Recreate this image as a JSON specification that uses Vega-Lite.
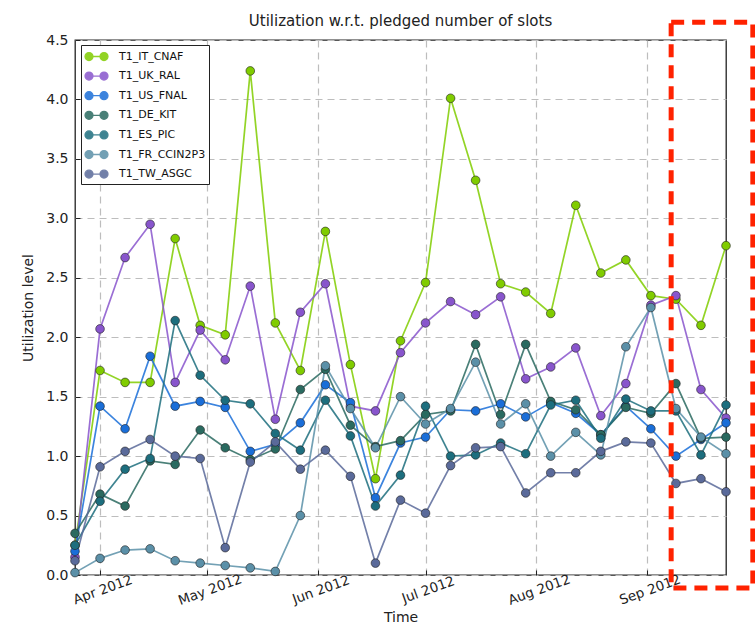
{
  "$schema": "https://vega.github.io/schema/vega-lite/v6.json",
  "width": 651,
  "height": 535,
  "autosize": {"type": "none"},
  "padding": {"left": 75, "top": 40, "right": 29, "bottom": 63},
  "title": {"text": "Utilization w.r.t. pledged number of slots", "fontSize": 15, "fontWeight": "normal", "font": "DejaVu Sans", "color": "#222", "offset": -9},
  "config": {
    "font": "DejaVu Sans",
    "view": {"stroke": "#222", "strokeWidth": 1.3},
    "axis": {"labelFont": "DejaVu Sans", "titleFont": "DejaVu Sans", "labelColor": "#222", "titleColor": "#222", "titleFontWeight": "normal", "domain": false, "gridColor": "#bdbdbd", "gridDash": [7, 5], "gridWidth": 1.2, "tickColor": "#222"}
  },
  "datasets": {
    "series": [
      {"date": "2012-03-25", "site": "T1_IT_CNAF", "value": 0.25},
      {"date": "2012-04-01", "site": "T1_IT_CNAF", "value": 1.72},
      {"date": "2012-04-08", "site": "T1_IT_CNAF", "value": 1.62},
      {"date": "2012-04-15", "site": "T1_IT_CNAF", "value": 1.62},
      {"date": "2012-04-22", "site": "T1_IT_CNAF", "value": 2.83},
      {"date": "2012-04-29", "site": "T1_IT_CNAF", "value": 2.10},
      {"date": "2012-05-06", "site": "T1_IT_CNAF", "value": 2.02},
      {"date": "2012-05-13", "site": "T1_IT_CNAF", "value": 4.24},
      {"date": "2012-05-20", "site": "T1_IT_CNAF", "value": 2.12},
      {"date": "2012-05-27", "site": "T1_IT_CNAF", "value": 1.72},
      {"date": "2012-06-03", "site": "T1_IT_CNAF", "value": 2.89},
      {"date": "2012-06-10", "site": "T1_IT_CNAF", "value": 1.77},
      {"date": "2012-06-17", "site": "T1_IT_CNAF", "value": 0.81},
      {"date": "2012-06-24", "site": "T1_IT_CNAF", "value": 1.97},
      {"date": "2012-07-01", "site": "T1_IT_CNAF", "value": 2.46},
      {"date": "2012-07-08", "site": "T1_IT_CNAF", "value": 4.01},
      {"date": "2012-07-15", "site": "T1_IT_CNAF", "value": 3.32},
      {"date": "2012-07-22", "site": "T1_IT_CNAF", "value": 2.45},
      {"date": "2012-07-29", "site": "T1_IT_CNAF", "value": 2.38},
      {"date": "2012-08-05", "site": "T1_IT_CNAF", "value": 2.20},
      {"date": "2012-08-12", "site": "T1_IT_CNAF", "value": 3.11},
      {"date": "2012-08-19", "site": "T1_IT_CNAF", "value": 2.54},
      {"date": "2012-08-26", "site": "T1_IT_CNAF", "value": 2.65},
      {"date": "2012-09-02", "site": "T1_IT_CNAF", "value": 2.35},
      {"date": "2012-09-09", "site": "T1_IT_CNAF", "value": 2.32},
      {"date": "2012-09-16", "site": "T1_IT_CNAF", "value": 2.10},
      {"date": "2012-09-23", "site": "T1_IT_CNAF", "value": 2.77},
      {"date": "2012-03-25", "site": "T1_UK_RAL", "value": 0.15},
      {"date": "2012-04-01", "site": "T1_UK_RAL", "value": 2.07},
      {"date": "2012-04-08", "site": "T1_UK_RAL", "value": 2.67},
      {"date": "2012-04-15", "site": "T1_UK_RAL", "value": 2.95},
      {"date": "2012-04-22", "site": "T1_UK_RAL", "value": 1.62},
      {"date": "2012-04-29", "site": "T1_UK_RAL", "value": 2.06},
      {"date": "2012-05-06", "site": "T1_UK_RAL", "value": 1.81},
      {"date": "2012-05-13", "site": "T1_UK_RAL", "value": 2.43},
      {"date": "2012-05-20", "site": "T1_UK_RAL", "value": 1.31},
      {"date": "2012-05-27", "site": "T1_UK_RAL", "value": 2.21},
      {"date": "2012-06-03", "site": "T1_UK_RAL", "value": 2.45},
      {"date": "2012-06-10", "site": "T1_UK_RAL", "value": 1.42},
      {"date": "2012-06-17", "site": "T1_UK_RAL", "value": 1.38},
      {"date": "2012-06-24", "site": "T1_UK_RAL", "value": 1.87},
      {"date": "2012-07-01", "site": "T1_UK_RAL", "value": 2.12},
      {"date": "2012-07-08", "site": "T1_UK_RAL", "value": 2.30},
      {"date": "2012-07-15", "site": "T1_UK_RAL", "value": 2.19},
      {"date": "2012-07-22", "site": "T1_UK_RAL", "value": 2.34},
      {"date": "2012-07-29", "site": "T1_UK_RAL", "value": 1.65},
      {"date": "2012-08-05", "site": "T1_UK_RAL", "value": 1.75},
      {"date": "2012-08-12", "site": "T1_UK_RAL", "value": 1.91},
      {"date": "2012-08-19", "site": "T1_UK_RAL", "value": 1.34},
      {"date": "2012-08-26", "site": "T1_UK_RAL", "value": 1.61},
      {"date": "2012-09-02", "site": "T1_UK_RAL", "value": 2.27},
      {"date": "2012-09-09", "site": "T1_UK_RAL", "value": 2.35},
      {"date": "2012-09-16", "site": "T1_UK_RAL", "value": 1.56},
      {"date": "2012-09-23", "site": "T1_UK_RAL", "value": 1.32},
      {"date": "2012-03-25", "site": "T1_US_FNAL", "value": 0.20},
      {"date": "2012-04-01", "site": "T1_US_FNAL", "value": 1.42},
      {"date": "2012-04-08", "site": "T1_US_FNAL", "value": 1.23},
      {"date": "2012-04-15", "site": "T1_US_FNAL", "value": 1.84},
      {"date": "2012-04-22", "site": "T1_US_FNAL", "value": 1.42},
      {"date": "2012-04-29", "site": "T1_US_FNAL", "value": 1.46},
      {"date": "2012-05-06", "site": "T1_US_FNAL", "value": 1.41},
      {"date": "2012-05-13", "site": "T1_US_FNAL", "value": 1.04},
      {"date": "2012-05-20", "site": "T1_US_FNAL", "value": 1.10},
      {"date": "2012-05-27", "site": "T1_US_FNAL", "value": 1.28},
      {"date": "2012-06-03", "site": "T1_US_FNAL", "value": 1.60},
      {"date": "2012-06-10", "site": "T1_US_FNAL", "value": 1.45},
      {"date": "2012-06-17", "site": "T1_US_FNAL", "value": 0.65},
      {"date": "2012-06-24", "site": "T1_US_FNAL", "value": 1.11},
      {"date": "2012-07-01", "site": "T1_US_FNAL", "value": 1.16},
      {"date": "2012-07-08", "site": "T1_US_FNAL", "value": 1.39},
      {"date": "2012-07-15", "site": "T1_US_FNAL", "value": 1.38},
      {"date": "2012-07-22", "site": "T1_US_FNAL", "value": 1.44},
      {"date": "2012-07-29", "site": "T1_US_FNAL", "value": 1.33},
      {"date": "2012-08-05", "site": "T1_US_FNAL", "value": 1.45},
      {"date": "2012-08-12", "site": "T1_US_FNAL", "value": 1.36},
      {"date": "2012-08-19", "site": "T1_US_FNAL", "value": 1.18},
      {"date": "2012-08-26", "site": "T1_US_FNAL", "value": 1.42},
      {"date": "2012-09-02", "site": "T1_US_FNAL", "value": 1.23},
      {"date": "2012-09-09", "site": "T1_US_FNAL", "value": 1.00},
      {"date": "2012-09-16", "site": "T1_US_FNAL", "value": 1.14},
      {"date": "2012-09-23", "site": "T1_US_FNAL", "value": 1.28},
      {"date": "2012-03-25", "site": "T1_DE_KIT", "value": 0.35},
      {"date": "2012-04-01", "site": "T1_DE_KIT", "value": 0.68},
      {"date": "2012-04-08", "site": "T1_DE_KIT", "value": 0.58},
      {"date": "2012-04-15", "site": "T1_DE_KIT", "value": 0.96},
      {"date": "2012-04-22", "site": "T1_DE_KIT", "value": 0.93},
      {"date": "2012-04-29", "site": "T1_DE_KIT", "value": 1.22},
      {"date": "2012-05-06", "site": "T1_DE_KIT", "value": 1.07},
      {"date": "2012-05-13", "site": "T1_DE_KIT", "value": 0.97},
      {"date": "2012-05-20", "site": "T1_DE_KIT", "value": 1.06},
      {"date": "2012-05-27", "site": "T1_DE_KIT", "value": 1.56},
      {"date": "2012-06-03", "site": "T1_DE_KIT", "value": 1.73},
      {"date": "2012-06-10", "site": "T1_DE_KIT", "value": 1.26},
      {"date": "2012-06-17", "site": "T1_DE_KIT", "value": 1.08},
      {"date": "2012-06-24", "site": "T1_DE_KIT", "value": 1.13},
      {"date": "2012-07-01", "site": "T1_DE_KIT", "value": 1.35},
      {"date": "2012-07-08", "site": "T1_DE_KIT", "value": 1.38},
      {"date": "2012-07-15", "site": "T1_DE_KIT", "value": 1.94},
      {"date": "2012-07-22", "site": "T1_DE_KIT", "value": 1.35},
      {"date": "2012-07-29", "site": "T1_DE_KIT", "value": 1.94},
      {"date": "2012-08-05", "site": "T1_DE_KIT", "value": 1.46},
      {"date": "2012-08-12", "site": "T1_DE_KIT", "value": 1.39},
      {"date": "2012-08-19", "site": "T1_DE_KIT", "value": 1.18},
      {"date": "2012-08-26", "site": "T1_DE_KIT", "value": 1.41},
      {"date": "2012-09-02", "site": "T1_DE_KIT", "value": 1.36},
      {"date": "2012-09-09", "site": "T1_DE_KIT", "value": 1.61},
      {"date": "2012-09-16", "site": "T1_DE_KIT", "value": 1.15},
      {"date": "2012-09-23", "site": "T1_DE_KIT", "value": 1.16},
      {"date": "2012-03-25", "site": "T1_ES_PIC", "value": 0.25},
      {"date": "2012-04-01", "site": "T1_ES_PIC", "value": 0.62},
      {"date": "2012-04-08", "site": "T1_ES_PIC", "value": 0.89},
      {"date": "2012-04-15", "site": "T1_ES_PIC", "value": 0.98},
      {"date": "2012-04-22", "site": "T1_ES_PIC", "value": 2.14},
      {"date": "2012-04-29", "site": "T1_ES_PIC", "value": 1.68},
      {"date": "2012-05-06", "site": "T1_ES_PIC", "value": 1.47},
      {"date": "2012-05-13", "site": "T1_ES_PIC", "value": 1.44},
      {"date": "2012-05-20", "site": "T1_ES_PIC", "value": 1.19},
      {"date": "2012-05-27", "site": "T1_ES_PIC", "value": 1.05},
      {"date": "2012-06-03", "site": "T1_ES_PIC", "value": 1.47},
      {"date": "2012-06-10", "site": "T1_ES_PIC", "value": 1.17},
      {"date": "2012-06-17", "site": "T1_ES_PIC", "value": 0.58},
      {"date": "2012-06-24", "site": "T1_ES_PIC", "value": 0.84},
      {"date": "2012-07-01", "site": "T1_ES_PIC", "value": 1.42},
      {"date": "2012-07-08", "site": "T1_ES_PIC", "value": 1.00},
      {"date": "2012-07-15", "site": "T1_ES_PIC", "value": 1.01},
      {"date": "2012-07-22", "site": "T1_ES_PIC", "value": 1.11},
      {"date": "2012-07-29", "site": "T1_ES_PIC", "value": 1.02},
      {"date": "2012-08-05", "site": "T1_ES_PIC", "value": 1.43},
      {"date": "2012-08-12", "site": "T1_ES_PIC", "value": 1.47},
      {"date": "2012-08-19", "site": "T1_ES_PIC", "value": 1.15},
      {"date": "2012-08-26", "site": "T1_ES_PIC", "value": 1.48},
      {"date": "2012-09-02", "site": "T1_ES_PIC", "value": 1.38},
      {"date": "2012-09-09", "site": "T1_ES_PIC", "value": 1.38},
      {"date": "2012-09-16", "site": "T1_ES_PIC", "value": 1.01},
      {"date": "2012-09-23", "site": "T1_ES_PIC", "value": 1.43},
      {"date": "2012-03-25", "site": "T1_FR_CCIN2P3", "value": 0.02},
      {"date": "2012-04-01", "site": "T1_FR_CCIN2P3", "value": 0.14},
      {"date": "2012-04-08", "site": "T1_FR_CCIN2P3", "value": 0.21},
      {"date": "2012-04-15", "site": "T1_FR_CCIN2P3", "value": 0.22},
      {"date": "2012-04-22", "site": "T1_FR_CCIN2P3", "value": 0.12},
      {"date": "2012-04-29", "site": "T1_FR_CCIN2P3", "value": 0.10},
      {"date": "2012-05-06", "site": "T1_FR_CCIN2P3", "value": 0.08},
      {"date": "2012-05-13", "site": "T1_FR_CCIN2P3", "value": 0.06},
      {"date": "2012-05-20", "site": "T1_FR_CCIN2P3", "value": 0.03},
      {"date": "2012-05-27", "site": "T1_FR_CCIN2P3", "value": 0.50},
      {"date": "2012-06-03", "site": "T1_FR_CCIN2P3", "value": 1.76},
      {"date": "2012-06-10", "site": "T1_FR_CCIN2P3", "value": 1.40},
      {"date": "2012-06-17", "site": "T1_FR_CCIN2P3", "value": 1.07},
      {"date": "2012-06-24", "site": "T1_FR_CCIN2P3", "value": 1.50},
      {"date": "2012-07-01", "site": "T1_FR_CCIN2P3", "value": 1.27},
      {"date": "2012-07-08", "site": "T1_FR_CCIN2P3", "value": 1.40},
      {"date": "2012-07-15", "site": "T1_FR_CCIN2P3", "value": 1.79},
      {"date": "2012-07-22", "site": "T1_FR_CCIN2P3", "value": 1.27},
      {"date": "2012-07-29", "site": "T1_FR_CCIN2P3", "value": 1.44},
      {"date": "2012-08-05", "site": "T1_FR_CCIN2P3", "value": 1.00},
      {"date": "2012-08-12", "site": "T1_FR_CCIN2P3", "value": 1.20},
      {"date": "2012-08-19", "site": "T1_FR_CCIN2P3", "value": 1.01},
      {"date": "2012-08-26", "site": "T1_FR_CCIN2P3", "value": 1.92},
      {"date": "2012-09-02", "site": "T1_FR_CCIN2P3", "value": 2.25},
      {"date": "2012-09-09", "site": "T1_FR_CCIN2P3", "value": 1.40},
      {"date": "2012-09-16", "site": "T1_FR_CCIN2P3", "value": 1.16},
      {"date": "2012-09-23", "site": "T1_FR_CCIN2P3", "value": 1.02},
      {"date": "2012-03-25", "site": "T1_TW_ASGC", "value": 0.12},
      {"date": "2012-04-01", "site": "T1_TW_ASGC", "value": 0.91},
      {"date": "2012-04-08", "site": "T1_TW_ASGC", "value": 1.04},
      {"date": "2012-04-15", "site": "T1_TW_ASGC", "value": 1.14},
      {"date": "2012-04-22", "site": "T1_TW_ASGC", "value": 1.00},
      {"date": "2012-04-29", "site": "T1_TW_ASGC", "value": 0.98},
      {"date": "2012-05-06", "site": "T1_TW_ASGC", "value": 0.23},
      {"date": "2012-05-13", "site": "T1_TW_ASGC", "value": 0.95},
      {"date": "2012-05-20", "site": "T1_TW_ASGC", "value": 1.12},
      {"date": "2012-05-27", "site": "T1_TW_ASGC", "value": 0.89},
      {"date": "2012-06-03", "site": "T1_TW_ASGC", "value": 1.05},
      {"date": "2012-06-10", "site": "T1_TW_ASGC", "value": 0.83},
      {"date": "2012-06-17", "site": "T1_TW_ASGC", "value": 0.10},
      {"date": "2012-06-24", "site": "T1_TW_ASGC", "value": 0.63},
      {"date": "2012-07-01", "site": "T1_TW_ASGC", "value": 0.52},
      {"date": "2012-07-08", "site": "T1_TW_ASGC", "value": 0.92},
      {"date": "2012-07-15", "site": "T1_TW_ASGC", "value": 1.07},
      {"date": "2012-07-22", "site": "T1_TW_ASGC", "value": 1.08},
      {"date": "2012-07-29", "site": "T1_TW_ASGC", "value": 0.69},
      {"date": "2012-08-05", "site": "T1_TW_ASGC", "value": 0.86},
      {"date": "2012-08-12", "site": "T1_TW_ASGC", "value": 0.86},
      {"date": "2012-08-19", "site": "T1_TW_ASGC", "value": 1.04},
      {"date": "2012-08-26", "site": "T1_TW_ASGC", "value": 1.12},
      {"date": "2012-09-02", "site": "T1_TW_ASGC", "value": 1.11},
      {"date": "2012-09-09", "site": "T1_TW_ASGC", "value": 0.77},
      {"date": "2012-09-16", "site": "T1_TW_ASGC", "value": 0.81},
      {"date": "2012-09-23", "site": "T1_TW_ASGC", "value": 0.70}
    ],
    "highlight": [
      {"start": "2012-09-07T16:00:00Z", "end": "2012-09-30T12:00:00Z", "low": -0.11, "high": 4.65}
    ]
  },
  "layer": [
    {
      "data": {"name": "series"},
      "mark": {"type": "line", "strokeWidth": 1.7, "opacity": 0.85},
      "encoding": {
        "x": {"field": "date", "type": "temporal", "scale": {"type": "utc", "domain": ["2012-03-25", "2012-09-23"], "nice": false},
          "axis": {"title": "Time", "format": "%b %Y", "tickCount": {"interval": "month", "step": 1}, "labelAngle": -20, "labelAlign": "center", "labelBaseline": "top", "labelFontSize": 13.5, "titleFontSize": 14, "tickSize": -5, "labelPadding": 13, "titlePadding": 3, "grid": true}},
        "y": {"field": "value", "type": "quantitative", "scale": {"domain": [0, 4.5], "nice": false, "zero": true},
          "axis": {"title": "Utilization level", "values": [0, 0.5, 1, 1.5, 2, 2.5, 3, 3.5, 4, 4.5], "format": ".1f", "labelFontSize": 14, "titleFontSize": 14, "tickSize": -5, "labelPadding": 12, "titlePadding": 10, "grid": true}},
        "color": {"field": "site", "type": "nominal",
          "scale": {"domain": ["T1_IT_CNAF", "T1_UK_RAL", "T1_US_FNAL", "T1_DE_KIT", "T1_ES_PIC", "T1_FR_CCIN2P3", "T1_TW_ASGC"], "range": ["#80cc00", "#8855cc", "#1a6ed8", "#2a6a60", "#1d6e7e", "#5b90a8", "#5a6a9a"]},
          "legend": {"title": null, "orient": "none", "legendX": 6, "legendY": 5, "direction": "vertical",
            "symbolType": "M-1,0L1,0M-1.53,0a0.53,0.53 0 1,0 1.06,0a0.53,0.53 0 1,0 -1.06,0M0.47,0a0.53,0.53 0 1,0 1.06,0a0.53,0.53 0 1,0 -1.06,0",
            "symbolSize": 225, "symbolStrokeWidth": 1.3, "symbolOffset": 4, "labelOffset": 14, "labelFontSize": 11, "labelFont": "DejaVu Sans", "labelColor": "#111",
            "rowPadding": 3.6, "padding": 3, "strokeColor": "#222", "fillColor": "white", "cornerRadius": 0,
            "encode": {"symbols": {"update": {"stroke": {"scale": "color", "field": "value"}, "fill": {"scale": "color", "field": "value"}, "opacity": {"value": 1}}}}}}
      }
    },
    {
      "data": {"name": "series"},
      "mark": {"type": "point", "filled": true, "size": 75, "opacity": 1, "stroke": "#222", "strokeOpacity": 0.6, "strokeWidth": 1},
      "encoding": {
        "x": {"field": "date", "type": "temporal"},
        "y": {"field": "value", "type": "quantitative"},
        "color": {"field": "site", "type": "nominal"}
      }
    },
    {
      "data": {"name": "highlight"},
      "mark": {"type": "rect", "fill": null, "stroke": "#ff2200", "strokeWidth": 5, "strokeDash": [13, 8], "clip": false},
      "encoding": {
        "x": {"field": "start", "type": "temporal"},
        "x2": {"field": "end"},
        "y": {"field": "low", "type": "quantitative"},
        "y2": {"field": "high"}
      }
    }
  ]
}
